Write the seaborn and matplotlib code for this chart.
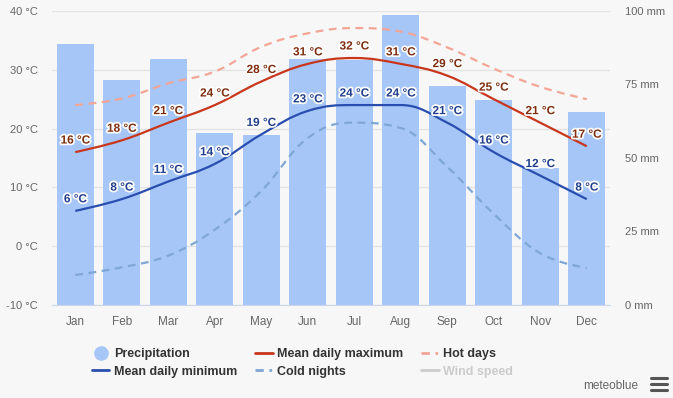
import matplotlib
matplotlib.use("Agg")
import matplotlib.pyplot as plt
import matplotlib.patheffects as pe
from matplotlib.path import Path
from matplotlib.patches import PathPatch
from matplotlib.lines import Line2D
import seaborn as sns
import pandas as pd
import numpy as np

months = ["Jan", "Feb", "Mar", "Apr", "May", "Jun", "Jul", "Aug", "Sep", "Oct", "Nov", "Dec"]
precip_mm = [88.8, 76.5, 83.6, 58.4, 57.8, 83.6, 83.4, 98.6, 74.5, 69.7, 46.5, 65.6]
mean_max = [16, 18, 21, 24, 28, 31, 32, 31, 29, 25, 21, 17]
mean_min = [6, 8, 11, 14, 19, 23, 24, 24, 21, 16, 12, 8]
hot_days = [24.0, 25.1, 27.7, 29.7, 33.9, 36.2, 37.1, 36.5, 33.8, 30.2, 27.1, 25.0]
cold_nights = [-4.9, -3.6, -1.6, 2.8, 9.4, 18.4, 21.0, 20.1, 13.5, 5.5, -1.2, -3.7]

temp_ticks = [-10, 0, 10, 20, 30, 40]
mm_ticks = [0, 25, 50, 75, 100]

BG = "#f7f7f7"
BAR = "#a7c6f8"
RED = "#c8371c"
BLUE = "#2a4eaf"
HOT = "#f3a696"
COLD = "#7fa7d6"


def spline_path(vals):
    # highcharts-like spline: bezier control points from neighbours
    y = np.asarray(vals, dtype=float)
    n = len(y)
    x = np.arange(n, dtype=float)
    lc = [None] * n
    rc = [None] * n
    s, d = 1.5, 2.5
    for i in range(1, n - 1):
        lx = (s * x[i] + x[i - 1]) / d
        ly = (s * y[i] + y[i - 1]) / d
        rx = (s * x[i] + x[i + 1]) / d
        ry = (s * y[i] + y[i + 1]) / d
        corr = (ry - ly) * (rx - x[i]) / (rx - lx) + y[i] - ry
        ly += corr
        ry += corr
        if ly > y[i - 1] and ly > y[i]:
            ly = max(y[i - 1], y[i]); ry = 2 * y[i] - ly
        elif ly < y[i - 1] and ly < y[i]:
            ly = min(y[i - 1], y[i]); ry = 2 * y[i] - ly
        if ry > y[i + 1] and ry > y[i]:
            ry = max(y[i + 1], y[i]); ly = 2 * y[i] - ry
        elif ry < y[i + 1] and ry < y[i]:
            ry = min(y[i + 1], y[i]); ly = 2 * y[i] - ry
        lc[i] = (lx, ly)
        rc[i] = (rx, ry)
    verts = [(x[0], y[0])]
    codes = [Path.MOVETO]
    for i in range(1, n):
        c1 = rc[i - 1] if rc[i - 1] is not None else (x[i - 1], y[i - 1])
        c2 = lc[i] if lc[i] is not None else (x[i], y[i])
        verts += [c1, c2, (x[i], y[i])]
        codes += [Path.CURVE4] * 3
    return Path(verts, codes)


sns.set_style("white")
plt.rcParams["font.family"] = ["Liberation Sans", "DejaVu Sans"]

fig = plt.figure(figsize=(6.73, 3.98), dpi=100, facecolor=BG)
ax = fig.add_axes([0.0773, 0.2337, 0.8291, 0.7387])
ax.set_facecolor(BG)

# grid + temperature labels
ax.set_ylim(-10, 40)
ax.set_yticks(temp_ticks)
ax.set_yticklabels([f"{t} °C" for t in temp_ticks])
ax.grid(axis="y", color="#e3e3e3", linewidth=1)
ax.tick_params(axis="y", length=0, pad=10, labelsize=8, labelcolor="#666666")

# precipitation bars
ax2 = ax.twinx()
df = pd.DataFrame({"month": months, "precip": precip_mm})
sns.barplot(data=df, x="month", y="precip", ax=ax2, color=BAR, width=0.8,
            saturation=1, linewidth=0)
ax2.set_ylim(0, 100)
ax2.set_yticks(mm_ticks)
ax2.set_yticklabels([f"{m} mm" for m in mm_ticks])
ax2.tick_params(axis="y", length=0, pad=11, labelsize=8, labelcolor="#666666")
ax2.set_xlabel("")
ax2.set_ylabel("")

ax.set_xticks(range(len(months)))
ax.set_xticklabels(months)
ax.tick_params(axis="x", length=0, pad=8, labelsize=8.5, labelcolor="#666666")
ax.set_xlim(-0.5, 11.5)

# temperature lines
ax3 = ax.twinx()
ax3.set_ylim(-10, 40)
ax3.set_yticks([])
series = [
    (cold_nights, COLD, (0, (3.5, 2.5))),
    (hot_days, HOT, (0, (3.5, 2.5))),
    (mean_min, BLUE, "solid"),
    (mean_max, RED, "solid"),
]
for vals, col, ls in series:
    ax3.add_patch(PathPatch(spline_path(vals), fill=False, edgecolor=col,
                            linewidth=1.6, linestyle=ls, capstyle="butt"))

halo = [pe.withStroke(linewidth=2.5, foreground="white")]
for i, v in enumerate(mean_max):
    ax3.annotate(f"{v} °C", (i, v), xytext=(0, 4), textcoords="offset points",
                 ha="center", va="bottom", fontsize=8.5, fontweight="bold",
                 color="#7e2e0f", path_effects=halo)
for i, v in enumerate(mean_min):
    ax3.annotate(f"{v} °C", (i, v), xytext=(0, 4), textcoords="offset points",
                 ha="center", va="bottom", fontsize=8.5, fontweight="bold",
                 color="#213f8c", path_effects=halo)

for a in (ax, ax2, ax3):
    for sp in a.spines.values():
        sp.set_visible(False)
ax2.spines["bottom"].set_visible(True)
ax2.spines["bottom"].set_color("#ccd6eb")

# legend
handles = [
    Line2D([], [], marker="o", markersize=9.5, color=BAR, linestyle="none"),
    Line2D([], [], color=BLUE, linewidth=2),
    Line2D([], [], color=RED, linewidth=2),
    Line2D([], [], color=COLD, linewidth=2, linestyle=(0, (3, 2, 1, 2))),
    Line2D([], [], color=HOT, linewidth=2, linestyle=(0, (3, 2, 1, 2))),
    Line2D([], [], color="#cccccc", linewidth=2),
]
labels = ["Precipitation", "Mean daily minimum", "Mean daily maximum",
          "Cold nights", "Hot days", "Wind speed"]
leg = fig.legend(handles, labels, ncol=3, loc="upper left",
                 bbox_to_anchor=(92 / 673, 1 - 348 / 398), frameon=False,
                 borderpad=0, borderaxespad=0, handlelength=1.4,
                 handletextpad=0.35, columnspacing=1.45, labelspacing=0.45,
                 prop={"size": 9.0, "weight": "bold"})
for t in leg.get_texts():
    t.set_color("#333333")
leg.get_texts()[-1].set_color("#cccccc")

fig.text(638 / 673, 1 - 386 / 398, "meteoblue", ha="right", va="center",
         fontsize=8.5, color="#666666")
for yy in (378, 384, 390):
    fig.add_artist(Line2D([651 / 673, 667 / 673], [1 - yy / 398, 1 - yy / 398],
                          color="#555555", linewidth=2.2))

fig.savefig("out.png", dpi=100, facecolor=BG)
